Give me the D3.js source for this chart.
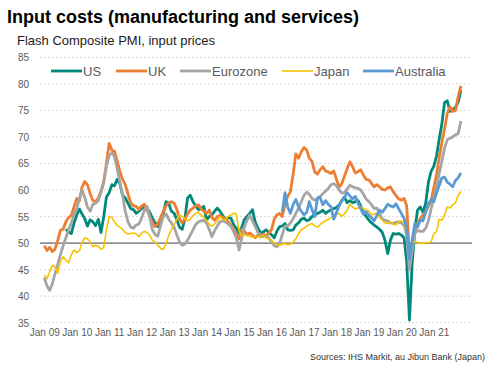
<!DOCTYPE html>
<html>
<head>
<meta charset="utf-8">
<script src="https://cdn.jsdelivr.net/npm/d3@7"></script>
<style>
  html, body { margin: 0; padding: 0; background: #fff; }
  svg { display: block; font-family: Arial, "Liberation Sans", sans-serif; }
</style>
</head>
<body>
<svg id="chart" width="495" height="372"></svg>
<script>
// ---------------- DATA ----------------
const seriesNames = ["US", "UK", "Eurozone", "Japan", "Australia"];
const seriesColors = ["#00897B", "#ED7D31", "#A5A5A5", "#F5C400", "#5B9BD5"];
const seriesStart = ["2009-09", "2009-01", "2009-01", "2009-01", "2016-05"];

const usValues = [
  52.6, 52.1, 51.8, 53.7,
  55.3, 56.4, 55.5, 54.6, 53.2, 54.4, 54.0, 53.3, 54.5, 52.0, 55.0, 58.7,
  59.5, 61.0, 60.8, 62.0, 61.2, 59.0, 58.5, 57.5, 56.5, 56.3, 55.6, 56.0,
  56.5, 56.9, 56.6, 55.8, 54.7, 53.8, 53.1, 54.2, 55.6, 57.8, 57.5, 56.0,
  55.6, 54.4, 53.0, 52.6, 54.5, 58.5, 59.0, 57.8, 57.0, 56.3, 56.5, 56.9,
  54.4, 55.0, 55.3, 56.0, 56.6, 56.0, 55.2, 54.4, 54.8, 54.7, 53.5, 52.8,
  51.9, 53.0, 54.4, 55.0, 55.6, 56.3, 54.0, 52.8, 51.9, 52.1, 52.5, 52.0,
  51.6, 51.0, 52.2, 53.1, 53.2, 53.7, 52.5, 52.4, 52.5, 53.4, 53.8, 54.5,
  54.7, 54.2, 54.4, 55.0, 55.3, 55.6, 55.8, 56.2, 55.6, 56.0, 56.2, 56.5,
  56.7, 57.2, 58.0, 58.7, 57.6, 58.0, 57.6, 57.8, 58.0, 57.0, 55.8, 55.0,
  54.3, 53.8, 53.4, 53.0, 52.6, 52.0, 50.5, 48.0, 50.6, 51.8, 51.7, 51.8,
  51.5, 51.0, 46.5, 35.5, 46.0, 52.5, 56.2, 56.8, 55.8, 57.5, 61.5, 63.5,
  64.5, 66.5, 69.5, 72.5, 76.5, 76.8, 74.8, 75.1, 75.6, 76.5, 78.8
];
const ukValues = [
  49.5, 48.6, 49.2, 48.4, 48.8, 50.5, 52.4, 52.6, 54.0, 54.8, 55.2, 56.8,
  58.4, 58.0, 60.5, 61.6, 61.0, 59.3, 58.0, 57.8, 58.5, 59.8, 61.6, 65.0,
  68.8, 67.5, 67.3, 65.5, 63.5, 62.0, 61.0, 59.2, 57.6, 57.0, 56.9, 56.3,
  57.0, 57.3, 56.3, 55.0, 53.9, 53.1, 53.6, 54.8, 56.0, 57.0, 57.6, 57.8,
  57.5, 56.3, 54.6, 53.8, 54.5, 55.5, 56.2, 56.6, 57.0, 57.2, 56.4, 56.0,
  55.6, 56.2, 54.8, 54.3, 55.0, 55.2, 54.8, 54.6, 54.0, 53.4, 52.6, 51.7,
  50.8, 52.6, 52.3, 51.6, 51.9, 51.5, 51.0, 51.5, 51.2, 51.7, 51.3, 51.9,
  52.5, 54.5, 55.3, 55.6, 55.0, 57.3, 58.8, 59.7, 63.0, 66.8, 66.0, 67.2,
  68.0, 67.5, 66.0, 65.4, 63.4, 63.0, 63.8, 64.4, 63.6, 63.4, 63.1, 63.6,
  62.0, 60.5, 61.2, 62.6, 64.0, 65.3, 64.4, 63.2, 63.5, 63.8, 62.8, 62.0,
  61.9, 61.2, 60.6, 61.0, 60.6, 60.1, 60.0, 60.4, 60.6, 59.7, 59.0, 58.3,
  58.1, 58.4, 57.0, 47.5, 49.5, 52.5, 53.8, 54.6, 55.3, 56.0, 57.0, 58.0,
  60.5, 63.0, 66.0, 69.0, 71.5, 74.4, 75.7, 74.8, 75.0, 77.6, 79.6
];
const ezValues = [
  43.5, 41.9, 41.1, 42.3, 44.2, 46.0, 47.8, 49.5, 51.0, 52.5, 53.8, 55.3,
  56.5, 58.4, 60.0, 58.6, 56.8, 56.0, 57.3, 57.5, 58.0, 59.5, 61.5, 64.5,
  66.5, 67.0, 66.3, 64.0, 61.5, 59.0, 56.0, 54.0, 53.0, 52.8, 53.4, 53.6,
  54.7, 56.2, 56.9, 55.0, 52.5, 51.6, 51.3, 53.3, 55.0, 55.5, 54.5, 53.8,
  53.0, 51.5, 50.3, 49.6, 49.8, 50.5, 51.5, 52.5, 53.5, 54.0, 54.2, 54.3,
  53.7, 52.5, 51.2, 52.3, 53.2, 54.0, 54.2, 54.0, 53.6, 53.1, 52.2, 51.0,
  48.7, 51.0, 53.0, 54.3, 55.3, 54.2, 53.2, 52.0, 51.5, 51.2, 51.3, 51.0,
  50.2, 49.5, 49.3, 49.9, 51.6, 53.2, 53.2, 53.8, 54.6, 55.6, 56.6, 57.8,
  59.0, 59.6, 59.2, 58.4, 58.1, 58.3, 58.8, 59.3, 59.8, 60.3, 61.0, 61.2,
  60.8, 60.0, 59.4, 59.5, 60.2, 60.9, 60.6, 60.4, 60.3, 60.0, 59.2, 58.3,
  57.8, 57.2, 56.5, 56.6, 55.5, 54.6, 54.3, 54.2, 53.8, 53.7, 53.9, 54.0,
  53.8, 53.3, 51.5, 44.9, 48.5, 51.8, 52.4, 52.2, 52.2, 52.8, 54.2, 56.5,
  58.6, 60.5, 63.0, 65.5, 67.9, 69.5, 69.7, 70.0, 70.4, 70.6, 73.0
];
const jpValues = [
  44.0, 43.3, 44.5, 45.8, 45.5, 44.3, 46.5, 47.4, 46.8, 46.3, 47.8, 48.7,
  48.2, 48.6, 50.0, 51.0, 50.8, 50.3, 49.3, 49.6, 49.4, 48.8, 49.2, 52.5,
  55.0, 54.8, 54.0, 53.3, 53.0, 52.6, 52.0, 51.7, 51.8, 51.9, 51.7, 51.2,
  51.9, 52.2, 52.0, 51.5, 50.5, 50.2, 49.6, 49.0, 48.8, 49.8, 51.5, 52.5,
  53.5, 54.5, 55.3, 55.0, 54.6, 54.2, 54.5, 55.2, 55.6, 55.8, 55.3, 54.8,
  54.3, 53.5, 53.2, 53.6, 54.2, 55.0, 54.5, 54.3, 55.0, 55.3, 55.6, 55.5,
  52.3, 51.3, 51.6, 51.4, 51.3, 51.1, 51.2, 51.3, 51.0, 51.5, 51.0, 50.8,
  50.5, 50.0, 49.7, 49.6, 49.8, 49.9, 49.7, 49.8, 50.2, 50.8, 51.8, 52.5,
  52.8, 53.2, 53.5, 53.7, 53.2, 53.0, 53.5, 53.9, 54.2, 54.5, 54.8, 55.0,
  55.4, 55.6, 55.0, 55.5, 56.2, 57.3, 56.8, 56.4, 56.6, 56.9, 56.5, 56.3,
  56.0, 55.3, 55.5, 55.6, 54.8, 54.3, 53.8, 53.7, 54.0, 53.6, 53.4, 54.0,
  54.2, 53.8, 51.5, 48.0, 50.0, 50.3, 50.1, 49.9, 50.0, 50.0, 50.1, 50.2,
  51.8, 52.2, 54.5, 54.3, 55.3, 56.8, 56.6, 57.2, 57.6, 59.0, 59.7
];
const ausValues = [
  55.8, 59.5, 56.8, 55.6, 57.3, 58.2, 56.8, 56.0,
  55.3, 55.8, 57.8, 56.3, 55.0, 58.5, 58.6, 57.2, 58.0, 57.3, 56.8, 54.5,
  55.8, 57.0, 57.9, 58.6, 59.5, 58.9, 58.3, 58.8, 57.5, 56.5, 55.4, 55.9,
  55.2, 54.7, 54.2, 55.2, 56.2, 55.8, 56.5, 57.3, 57.0, 56.8, 57.4, 56.5,
  55.6, 54.6, 52.8, 47.0, 50.5, 53.7, 53.0, 54.3, 54.2, 55.8, 57.5, 58.2,
  57.8, 59.5, 60.8, 62.3, 62.4, 61.5, 61.1, 60.6, 61.8, 62.3, 63.2
];
const seriesValues = [usValues, ukValues, ezValues, jpValues, ausValues];

const yTicks = [35, 40, 45, 50, 55, 60, 65, 70, 75, 80, 85];
const xTickLabels = ["Jan 09", "Jan 10", "Jan 11", "Jan 12", "Jan 13", "Jan 14", "Jan 15",
                     "Jan 16", "Jan 17", "Jan 18", "Jan 19", "Jan 20", "Jan 21"];
const xTickDates = ["2009-01", "2010-01", "2011-01", "2012-01", "2013-01", "2014-01", "2015-01",
                    "2016-01", "2017-01", "2018-01", "2019-01", "2020-01", "2021-01"];

const titleText = "Input costs (manufacturing and services)";
const subtitleText = "Flash Composite PMI, input prices";
const sourceText = "Sources: IHS Markit, au Jibun Bank (Japan)";

// ---------------- CHART ----------------
const svg = d3.select("#chart");
const parse = d3.timeParse("%Y-%m");
const plotLeft = 40, plotRight = 472;

const x = d3.scaleTime()
  .domain([parse("2009-01"), parse("2021-11")])
  .range([44.3, 460.9]);
const y = d3.scaleLinear().domain([35, 85]).range([322.7, 57.3]);

svg.append("rect").attr("width", 495).attr("height", 372).attr("fill", "#fff");

// title
svg.append("text").attr("x", 7).attr("y", 23)
  .attr("font-size", 18).attr("font-weight", "bold").attr("fill", "#000")
  .text(titleText);
svg.append("text").attr("x", 17).attr("y", 45)
  .attr("font-size", 13).attr("fill", "#1a1a1a")
  .text(subtitleText);

// gridlines
const yAxis = d3.axisLeft(y).tickValues(yTicks).tickSize(0).tickPadding(0);
const gY = svg.append("g").attr("transform", `translate(29,0)`).call(yAxis);
gY.select(".domain").remove();
gY.selectAll("text").attr("font-size", 10).attr("fill", "#595959")
  .attr("font-family", "Arial, 'Liberation Sans', sans-serif").attr("dy", "0.35em");

svg.append("g").selectAll("line").data(yTicks.filter(d => d !== 50)).join("line")
  .attr("x1", plotLeft).attr("x2", plotRight)
  .attr("y1", d => y(d)).attr("y2", d => y(d))
  .attr("stroke", "#d9d9d9").attr("stroke-width", 1).attr("stroke-dasharray", "2,2");

svg.append("line").attr("x1", plotLeft).attr("x2", plotRight)
  .attr("y1", y(50)).attr("y2", y(50))
  .attr("stroke", "#404040").attr("stroke-width", 1);

// x labels
const xAxis = d3.axisBottom(x).tickValues(xTickDates.map(parse))
  .tickFormat((d, i) => xTickLabels[i]).tickSize(0).tickPadding(0);
const gX = svg.append("g").attr("transform", `translate(0,329)`).call(xAxis);
gX.select(".domain").remove();
gX.selectAll("text").attr("font-size", 10).attr("fill", "#595959")
  .attr("font-family", "Arial, 'Liberation Sans', sans-serif");

// lines
const line = d3.line().defined(d => d.v != null).x(d => x(d.date)).y(d => y(d.v));
seriesNames.forEach((name, i) => {
  const start = parse(seriesStart[i]);
  const pts = seriesValues[i].map((v, k) => ({ date: d3.timeMonth.offset(start, k), v }));
  svg.append("path").datum(pts)
    .attr("fill", "none")
    .attr("stroke", seriesColors[i])
    .attr("stroke-width", name === "Japan" ? 1.6 : 2.8)
    .attr("stroke-linejoin", "round")
    .attr("d", line);
});

// legend
const legendX = [51, 116, 180, 282, 363];
const lg = svg.append("g");
seriesNames.forEach((name, i) => {
  lg.append("line").attr("x1", legendX[i]).attr("x2", legendX[i] + 31)
    .attr("y1", 71).attr("y2", 71)
    .attr("stroke", seriesColors[i]).attr("stroke-width", name === "Japan" ? 1.6 : 2.8);
  lg.append("text").attr("x", legendX[i] + 32).attr("y", 71).attr("dy", "0.35em")
    .attr("font-size", 13).attr("fill", "#595959").text(name);
});

// source
svg.append("text").attr("x", 485).attr("y", 360).attr("text-anchor", "end")
  .attr("font-size", 9).attr("fill", "#333").text(sourceText);
</script>
</body>
</html>
